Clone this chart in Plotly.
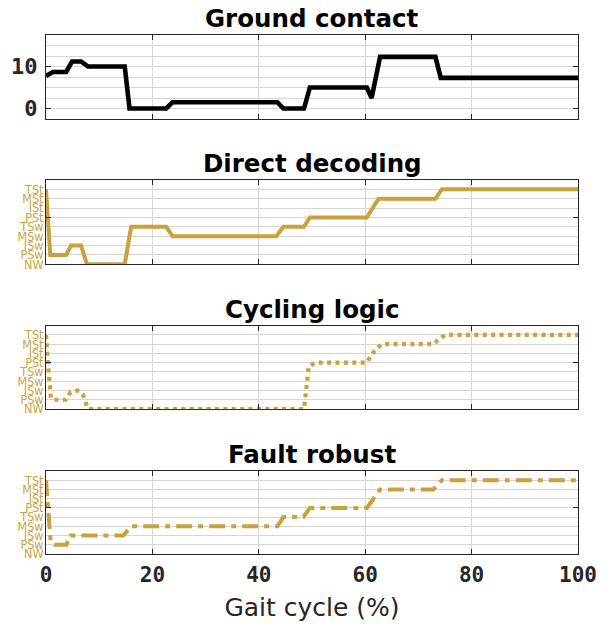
import plotly.graph_objects as go

# ---------------- data ----------------
titles = ["Ground contact", "Direct decoding", "Cycling logic", "Fault robust"]
phase_labels = ["NW", "PSw", "ISw", "MSw", "TSw", "PSt", "ISt", "MSt", "TSt"]
phase_vals = [0, 1, 2, 3, 4, 5, 6, 7, 8]
gc_ticks = [0, 10]
x_ticks = [0, 20, 40, 60, 80, 100]

gc_x = [0, 1.3, 3.8, 4.9, 6.6, 7.9, 14.8, 15.7, 22.6, 23.8, 43.5, 44.6, 48.5, 49.6,
        60.3, 61.2, 62.8, 73.2, 74.2, 100]
gc_y = [7.75, 8.7, 8.7, 11.2, 11.2, 10, 10, 0, 0, 1.5, 1.5, 0, 0, 5,
        5, 2.5, 12.3, 12.3, 7.3, 7.3]

dd_x = [0, 0.8, 3.8, 4.7, 6.6, 7.7, 14.8, 16.0, 22.6, 23.8, 43.3, 44.6, 48.5, 49.6,
        60.3, 62.5, 73.2, 74.4, 100]
dd_y = [8, 1, 1, 2, 2, 0, 0, 4, 4, 3, 3, 4, 4, 5, 5, 7, 7, 8, 8]

cl_x = [0, 0.2, 0.5, 0.8, 0.9, 1.5, 3.7, 4.6, 5.9, 6.9, 7.4, 7.9, 48.5, 48.7, 49.0,
        49.4, 50.6, 60.3, 61.0, 61.9, 63.1, 72.8, 73.8, 75.0, 100]
cl_y = [8, 6, 4, 2, 1.2, 1, 1, 1.8, 2, 1.6, 0.8, 0, 0, 1, 2.5,
        4.6, 5, 5, 5.7, 6.4, 7, 7, 7.5, 8, 8]

fr_x = [0, 0.2, 0.4, 0.66, 0.85, 1.6, 3.8, 4.6, 14.5, 16.0, 43.5, 44.6, 48.4, 49.6,
        60.3, 62.8, 72.8, 74.4, 100]
fr_y = [8, 6.6, 5.2, 3, 1.5, 1, 1, 2, 2, 3, 3, 4, 4, 5, 5, 7, 7, 8, 8]

# ---------------- style ----------------
GOLD = "#C9A13D"
GOLD_TXT = "#C9A445"
GRID = "#D6D6D6"
AX = "#262626"

W, H = 601, 628
mt, mb, ml, mr = 35, 74, 46, 23
ph = H - mt - mb
panel_px = [(35, 119), (180, 264.3), (325.7, 409), (471, 554)]
domains = [[(H - mb - b) / ph, (H - mb - t) / ph] for (t, b) in panel_px]
domains[3][0] = 0.0
domains[0][1] = 1.0

fig = go.Figure()
series = [(gc_x, gc_y, "black", "solid", 4.6),
          (dd_x, dd_y, GOLD, "solid", 4),
          (cl_x, cl_y, GOLD, "4px,4.4px", 4.2),
          (fr_x, fr_y, GOLD, "16px,6px,5px,6px", 4)]
for i, (xs, ys, c, d, w) in enumerate(series):
    sfx = "" if i == 0 else str(i + 1)
    fig.add_trace(go.Scatter(x=xs, y=ys, mode="lines",
                             line=dict(color=c, width=w, dash=d),
                             xaxis="x" + sfx, yaxis="y" + sfx,
                             showlegend=False, hoverinfo="skip"))

layout = dict(width=W, height=H, margin=dict(l=ml, r=mr, t=mt, b=mb, autoexpand=False),
              plot_bgcolor="white", paper_bgcolor="white", showlegend=False)

for i in range(4):
    sfx = "" if i == 0 else str(i + 1)
    last = i == 3
    xa = dict(domain=[0, 1], range=[0, 100], anchor="y" + sfx, automargin=False,
              tickmode="array", tickvals=x_ticks,
              showticklabels=last, ticks="inside", ticklen=5, tickcolor=AX,
              showline=True, linecolor=AX, linewidth=1, mirror="ticks",
              showgrid=True, gridcolor=GRID, gridwidth=1, zeroline=False,
              tickfont=dict(family="DejaVu Sans Mono", size=21, color="#262626", weight="bold"),
              ticklabelstandoff=2)
    if not last:
        xa["matches"] = "x4"
    if last:
        xa["title"] = dict(text="Gait cycle (%)", standoff=12,
                           font=dict(family="DejaVu Sans", size=25, color="#262626"))
    layout["xaxis" + sfx] = xa

    if i == 0:
        ya = dict(domain=domains[i], range=[-2.5, 17.5], anchor="x", automargin=False,
                  tickmode="array", tickvals=gc_ticks, ticktext=[str(v) for v in gc_ticks],
                  ticks="inside", ticklen=5, tickcolor=AX,
                  showline=True, linecolor=AX, linewidth=1, mirror="ticks",
                  showgrid=True, gridcolor=GRID, zeroline=False,
                  minor=dict(tickmode="linear", tick0=0, dtick=2.5, showgrid=True,
                             gridcolor=GRID, ticks=""),
                  tickfont=dict(family="DejaVu Sans Mono", size=22, color="#262626", weight="bold"),
                  ticklabelstandoff=3)
    else:
        ya = dict(domain=domains[i], range=[0, 9], anchor="x" + sfx, automargin=False,
                  tickmode="array", tickvals=phase_vals, ticktext=phase_labels,
                  ticks="", showline=True, linecolor=AX, linewidth=1, mirror="ticks",
                  showgrid=True, gridcolor=GRID, zeroline=False,
                  minor=dict(tickmode="array", tickvals=[0, 5], ticks="inside",
                             ticklen=5, tickcolor=AX, showgrid=False),
                  tickfont=dict(family="DejaVu Sans Condensed, DejaVu Sans", size=12.5, color=GOLD_TXT),
                  ticklabelstandoff=-1)
    layout["yaxis" + sfx] = ya

annotations = []
for i, t in enumerate(titles):
    annotations.append(dict(text="<b>" + t + "</b>", x=0.5, xref="paper",
                            y=domains[i][1], yref="paper", yanchor="bottom",
                            xanchor="center", showarrow=False, yshift=0,
                            font=dict(family="DejaVu Sans", size=24.5, color="black")))
layout["annotations"] = annotations
fig.update_layout(**layout)
fig.write_html("out.html", config={"displayModeBar": False},
               post_script="document.body.style.margin='0';")
